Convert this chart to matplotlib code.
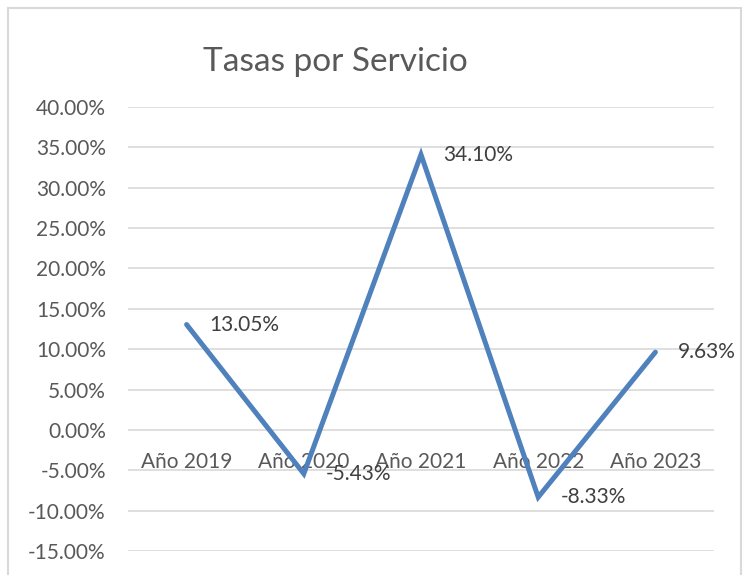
import matplotlib.pyplot as plt
from matplotlib.patches import Rectangle
from matplotlib.ticker import FuncFormatter

plt.rcParams['font.family'] = ['Lato', 'DejaVu Sans']

years = ['Año 2019', 'Año 2020', 'Año 2021', 'Año 2022', 'Año 2023']
rates = [13.05, -5.43, 34.10, -8.33, 9.63]
yticks = [-15, -10, -5, 0, 5, 10, 15, 20, 25, 30, 35, 40]

fig = plt.figure(figsize=(7.44, 5.75), dpi=100)
W, H = 744, 575
ax = fig.add_axes([128 / W, 1 - 551 / H, (714 - 128) / W, (551 - 107) / H])

# chart frame, cut off at the bottom like the screenshot
fig.patches.append(Rectangle((8 / W, -0.05), (741 - 8) / W, 1.05 - 8 / H,
                             transform=fig.transFigure, fill=False,
                             edgecolor='#d9d9d9', linewidth=1.5))

x = list(range(len(years)))
ax.plot(x, rates, color='#4f81bd', linewidth=3.6, solid_capstyle='round',
        solid_joinstyle='miter', zorder=3)

for xi, v in zip(x, rates):
    ax.annotate(f'{v:.2f}%', (xi, v), xytext=(16, 0), textcoords='offset points',
                ha='left', va='center', fontsize=15, color='#404040', zorder=4)

ax.set_xlim(-0.5, len(years) - 0.5)
ax.set_ylim(-15, 40)
ax.set_yticks(yticks)
ax.yaxis.set_major_formatter(FuncFormatter(lambda v, p: f'{v:.2f}%'))
ax.grid(axis='y', color='#d9d9d9', linewidth=1.2)
ax.set_axisbelow(True)

ax.set_xticks(x)
ax.set_xticklabels(years)
ax.spines['bottom'].set_position(('data', 0))
for s in ax.spines.values():
    s.set_visible(False)
ax.tick_params(axis='both', length=0, labelsize=15, labelcolor='#595959')
ax.tick_params(axis='x', pad=16)
ax.tick_params(axis='y', pad=16)

fig.text(335 / W, 1 - 62 / H, 'Tasas por Servicio', ha='center', va='center',
         fontsize=24, color='#595959')

fig.savefig('out.png', dpi=100)
